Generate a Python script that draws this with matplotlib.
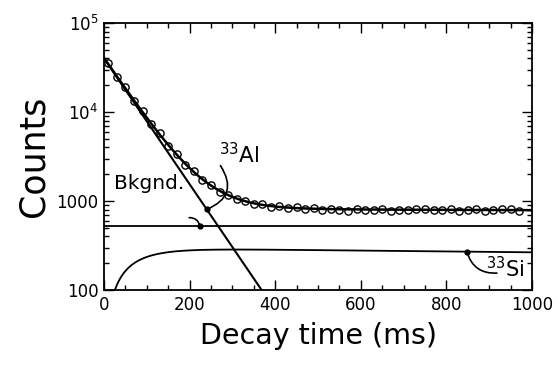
import numpy as np
import matplotlib
matplotlib.use("Agg")
import matplotlib.pyplot as plt
from matplotlib.ticker import MultipleLocator, FixedLocator, FixedFormatter, LogLocator, NullFormatter

# ---- data ----
t_data = [10, 30, 50, 70, 90, 110, 130, 150, 170, 190, 210, 230, 250, 270, 290,
          310, 330, 350, 370, 390, 410, 430, 450, 470, 490, 510, 530, 550, 570,
          590, 610, 630, 650, 670, 690, 710, 730, 750, 770, 790, 810, 830, 850,
          870, 890, 910, 930, 950, 970]
counts = [35500, 25000, 18900, 13300, 10300, 7300, 5750, 4150, 3400, 2550, 2180,
          1700, 1520, 1270, 1180, 1040, 1010, 920, 915, 860, 875, 830, 850, 815,
          835, 800, 810, 790, 780, 820, 800, 790, 815, 780, 800, 790, 820, 815,
          800, 790, 810, 780, 790, 810, 770, 790, 805, 815, 770]

# fit parameters
al_amp = 40000.0      # counts at t=0
al_half = 42.6        # ms
bkg = 524.0
si_amp = 297.0
si_half = 6110.0      # ms

y_ticks = [100, 1000, 1e4, 1e5]
y_labels = ["100", "1000", r"10$^4$", r"10$^5$"]
x_ticks = [0, 200, 400, 600, 800, 1000]

l1 = np.log(2) / al_half
l2 = np.log(2) / si_half

def al(t):
    return al_amp * np.exp(-l1 * t)

def si(t):
    return si_amp * (np.exp(-l2 * t) - np.exp(-l1 * t))

fig = plt.figure(figsize=(5.58, 3.72), dpi=100)
ax = fig.add_axes([0.1864, 0.2204, 0.767, 0.7178])

tt = np.linspace(0, 1000, 1001)
ax.semilogy(t_data, counts, 'o', ms=5.2, mfc='none', mec='black', mew=1.0, zorder=3)
ax.plot(tt, al(tt) + bkg + si(tt), color='black', lw=1.8, zorder=4)
ax.plot(tt, al(tt), color='black', lw=1.5)
ax.plot(tt, np.full_like(tt, bkg), color='black', lw=1.3)
ax.plot(tt, si(tt), color='black', lw=1.3)

ax.set_xlim(0, 1000)
ax.set_ylim(100, 1e5)

ax.xaxis.set_major_locator(FixedLocator(x_ticks))
ax.xaxis.set_minor_locator(MultipleLocator(50))
ax.yaxis.set_major_locator(FixedLocator(y_ticks))
ax.yaxis.set_major_formatter(FixedFormatter(y_labels))
ax.yaxis.set_minor_locator(LogLocator(base=10, subs=np.arange(2, 10)))
ax.yaxis.set_minor_formatter(NullFormatter())
ax.tick_params(which='both', direction='in', top=True, right=True, labelsize=12, width=1.0)
ax.tick_params(which='major', length=7, pad=4)
ax.tick_params(which='minor', length=3.5)
for s in ax.spines.values():
    s.set_linewidth(1.3)

ax.set_xlabel("Decay time (ms)", fontsize=20.5, labelpad=6)
ax.set_ylabel("Counts", fontsize=25, labelpad=4)

# annotations
ta = 240
ax.plot([ta], [al(ta)], 'o', color='black', ms=3.5, zorder=5)
ax.annotate("", xy=(ta, al(ta)), xytext=(272, 2500),
            arrowprops=dict(arrowstyle='-', color='black', lw=1.2,
                            connectionstyle='arc3,rad=-0.6', shrinkA=0, shrinkB=0))
ax.text(268, 3300, r"$^{33}$Al", fontsize=15.5, ha='left', va='center')

ax.plot([224], [bkg], 'o', color='black', ms=3.5, zorder=5)
ax.annotate("", xy=(224, bkg), xytext=(199, 650),
            arrowprops=dict(arrowstyle='-', color='black', lw=1.2,
                            connectionstyle='arc3,rad=-0.4', shrinkA=0, shrinkB=0))
ax.text(24, 1560, "Bkgnd.", fontsize=14.5, ha='left', va='center')

ts = 848
ax.plot([ts], [si(ts)], 'o', color='black', ms=3.5, zorder=5)
ax.annotate("", xy=(ts, si(ts)), xytext=(918, 155),
            arrowprops=dict(arrowstyle='-', color='black', lw=1.2,
                            connectionstyle='arc3,rad=-0.4', shrinkA=0, shrinkB=0))
ax.text(893, 172, r"$^{33}$Si", fontsize=15, ha='left', va='center')

fig.savefig("out.png", dpi=100)
